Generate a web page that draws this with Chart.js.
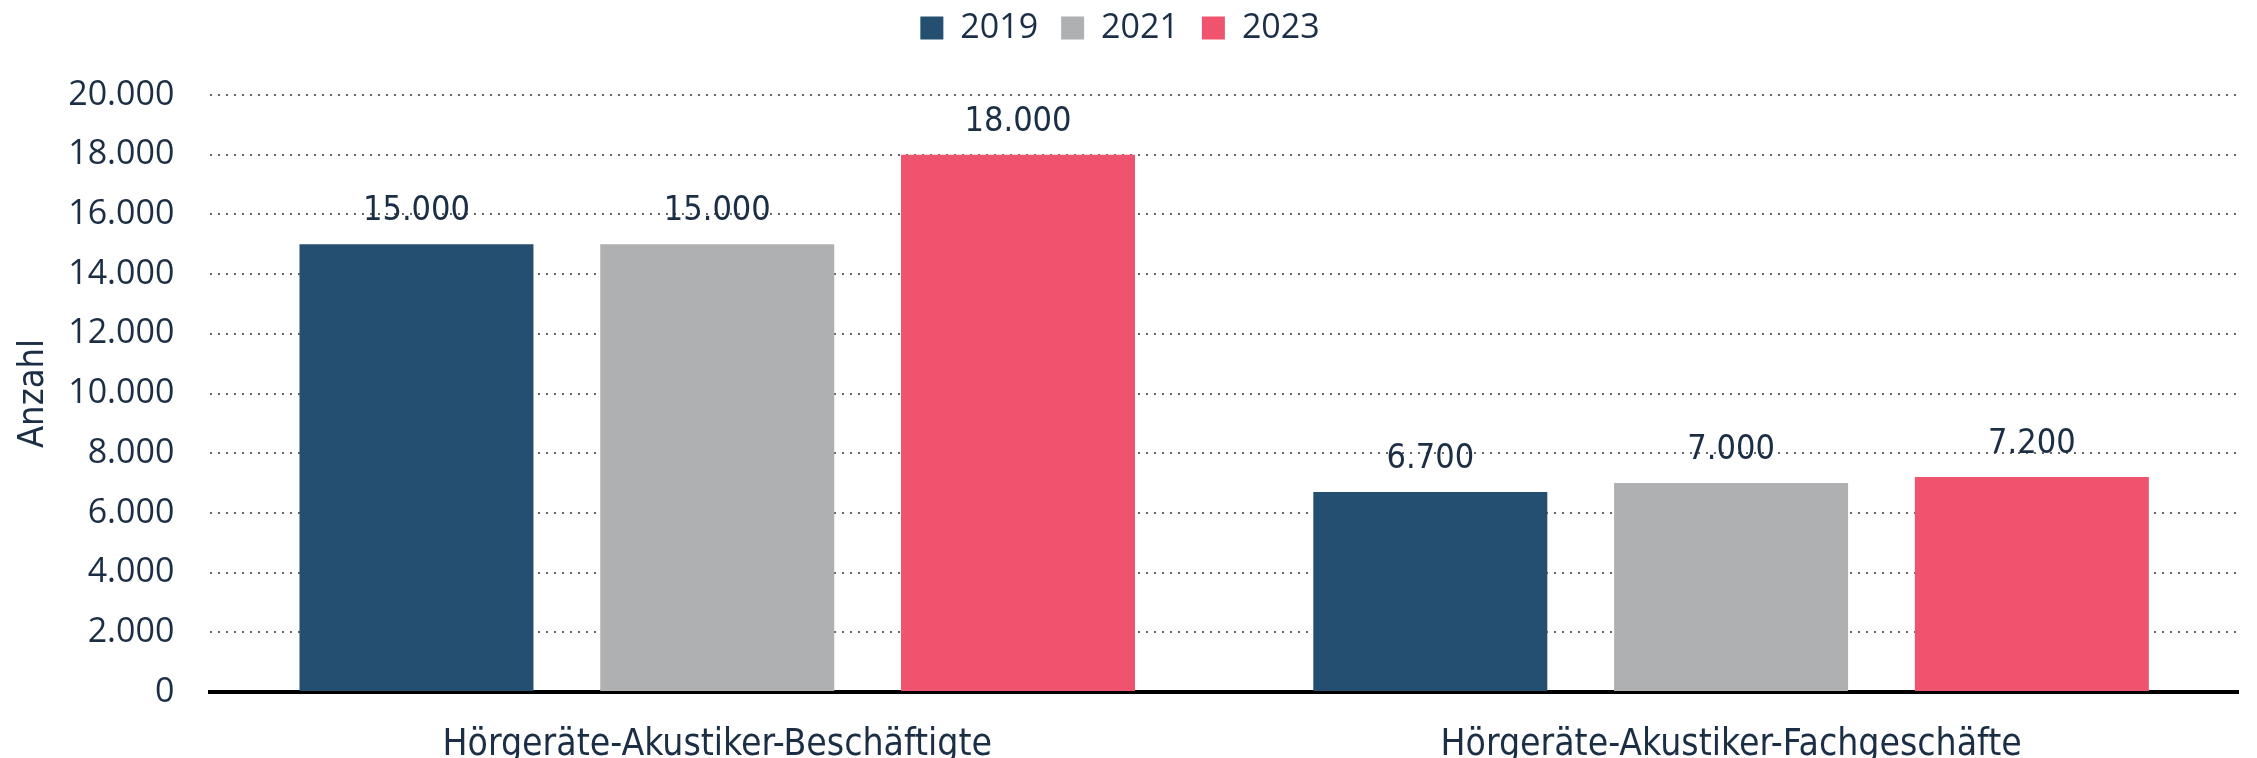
<!DOCTYPE html>
<html>
<head>
<meta charset="utf-8">
<script src="https://cdn.jsdelivr.net/npm/chart.js@4/dist/chart.umd.min.js"></script>
<style>
  html, body { margin: 0; padding: 0; background: #fff; }
  canvas { display: block; }
</style>
</head>
<body>
<canvas id="chart" width="2257" height="758"></canvas>
<script>
const kategorien = ['Hörgeräte-Akustiker-Beschäftigte', 'Hörgeräte-Akustiker-Fachgeschäfte'];
const jahre = ['2019', '2021', '2023'];
const werte2019 = [15000, 6700];
const werte2021 = [15000, 7000];
const werte2023 = [18000, 7200];
const farben = ['#244F70', '#AFB0B2', '#EF536D'];

const textFarbe = '#1B2E45';
const schrift = "'Open Sans', sans-serif";
const schmal = "'Liberation Sans Narrow', 'DejaVu Sans Condensed', 'Open Sans', sans-serif";

function formatDE(v) {
    return v.toLocaleString('de-DE');
}

// Werte über den Balken
const wertLabels = {
    id: 'wertLabels',
    afterDatasetsDraw(chart) {
        const ctx = chart.ctx;
        ctx.save();
        ctx.font = '34px ' + schmal;
        ctx.fillStyle = textFarbe;
        ctx.textAlign = 'center';
        ctx.textBaseline = 'middle';
        chart.data.datasets.forEach((ds, i) => {
            chart.getDatasetMeta(i).data.forEach((bar, j) => {
                ctx.fillText(formatDE(ds.data[j]), bar.x, bar.y - 33);
            });
        });
        ctx.restore();
    }
};

// etwas mehr Platz unter der Legende
const legendeAbstand = {
    id: 'legendeAbstand',
    beforeInit(chart) {
        const fit = chart.legend.fit;
        chart.legend.fit = function () {
            fit.bind(chart.legend)();
            this.height += 40;
        };
    }
};

const datasets = [werte2019, werte2021, werte2023].map((d, i) => ({
    label: jahre[i],
    data: d,
    backgroundColor: farben[i],
    barPercentage: 0.778,
    categoryPercentage: 0.89
}));

new Chart(document.getElementById('chart').getContext('2d'), {
    type: 'bar',
    data: { labels: kategorien, datasets },
    options: {
        responsive: false,
        animation: false,
        layout: { padding: { top: -12, right: 19, bottom: -41, left: 2 } },
        plugins: {
            tooltip: { enabled: false },
            legend: {
                position: 'top',
                labels: {
                    boxWidth: 23,
                    boxHeight: 23,
                    padding: 23,
                    color: textFarbe,
                    font: { family: schrift, size: 34 }
                }
            }
        },
        scales: {
            x: {
                grid: { display: false, drawTicks: false },
                border: { display: true, color: '#000', width: 4 },
                ticks: {
                    color: textFarbe,
                    padding: 35,
                    font: { family: schmal, size: 37, lineHeight: 1 }
                }
            },
            y: {
                min: 0,
                max: 20000,
                ticks: {
                    stepSize: 2000,
                    color: textFarbe,
                    padding: 36,
                    font: { family: schrift, size: 34 },
                    callback: v => formatDE(v)
                },
                grid: { color: '#666', lineWidth: 2, drawTicks: false },
                border: { display: false, dash: [2, 6] },
                title: {
                    display: true,
                    text: 'Anzahl',
                    color: textFarbe,
                    padding: { top: 10, bottom: -23 },
                    font: { family: schmal, size: 36 }
                }
            }
        }
    },
    plugins: [wertLabels, legendeAbstand]
});
</script>
</body>
</html>
